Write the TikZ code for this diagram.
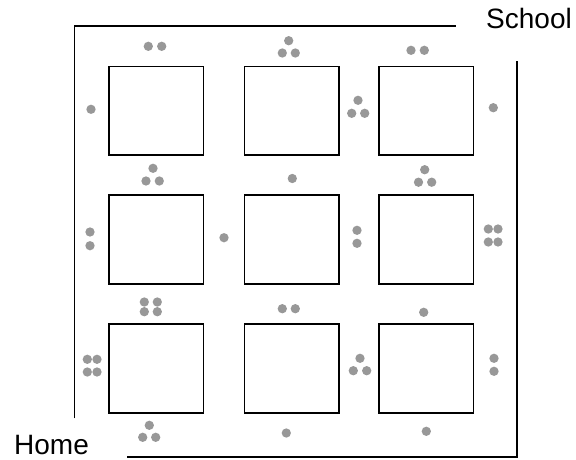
\documentclass[tikz,border=0pt]{standalone}
\usepackage{fontspec}
\setmainfont{Liberation Sans}
\definecolor{dotgray}{RGB}{152,152,152}

\begin{document}
\begin{tikzpicture}[
		x=10pt, y=-10pt,
		% City blocks of the plan
		block/.style={draw=black, line width=1.6pt, minimum width=94.4pt, minimum height=88.6pt, inner sep=0pt},
		% One dot on a street corner
		datapoint/.style={circle, fill=dotgray, inner sep=0pt, minimum size=9.3pt},
		% Typography for the two end points of the route
		placestyle/.style={font=\fontsize{28}{34}\selectfont, inner sep=0pt, text depth=0pt, anchor=base west},
		roadstyle/.style={line width=1.6pt}
		]
		\useasboundingbox (0,0) rectangle (57.6,45.9);
		
		% =========================================================================
		% OUTER ROADS
		% =========================================================================
		\coordinate (nwlow) at (7.43,41.83);
		\coordinate (nwcorner) at (7.43,2.57);
		\coordinate (nwend) at (45.57,2.57);
		\coordinate (sestart) at (12.73,45.67);
		\coordinate (secorner) at (51.67,45.67);
		\coordinate (seend) at (51.67,6.07);
		\draw[roadstyle] (nwlow) -- (nwcorner) -- (nwend);
		\draw[roadstyle] (sestart) -- (secorner) -- (seend);
		
		\node[placestyle] (school) at (48.6,2.8) {School};
		\node[placestyle] (home) at (1.4,45.4) {Home};
		
		% =========================================================================
		% BLOCKS
		% =========================================================================
		\node[block] (blk11) at (15.63,11.06) {};
		\node[block] (blk12) at (29.17,11.06) {};
		\node[block] (blk13) at (42.63,11.06) {};
		\node[block] (blk21) at (15.63,23.95) {};
		\node[block] (blk22) at (29.17,23.95) {};
		\node[block] (blk23) at (42.63,23.95) {};
		\node[block] (blk31) at (15.63,36.85) {};
		\node[block] (blk32) at (29.17,36.85) {};
		\node[block] (blk33) at (42.63,36.85) {};
		
		% =========================================================================
		% DOTS: top street and first row
		% =========================================================================
		\node[datapoint] (d1) at (14.83,4.63) {};
		\node[datapoint] (d2) at (16.17,4.63) {};
		\node[datapoint] (d3) at (28.87,4.07) {};
		\node[datapoint] (d4) at (28.23,5.3) {};
		\node[datapoint] (d5) at (29.53,5.3) {};
		\node[datapoint] (d6) at (41.1,5.03) {};
		\node[datapoint] (d7) at (42.43,5.03) {};
		\node[datapoint] (d8) at (9.1,10.93) {};
		\node[datapoint] (d9) at (35.8,10.03) {};
		\node[datapoint] (d10) at (35.17,11.33) {};
		\node[datapoint] (d11) at (36.47,11.33) {};
		\node[datapoint] (d12) at (49.33,10.77) {};
		
		% =========================================================================
		% DOTS: second street and second row
		% =========================================================================
		\node[datapoint] (d13) at (15.3,16.83) {};
		\node[datapoint] (d14) at (14.6,18.1) {};
		\node[datapoint] (d15) at (15.93,18.1) {};
		\node[datapoint] (d16) at (29.23,17.85) {};
		\node[datapoint] (d17) at (42.47,16.97) {};
		\node[datapoint] (d18) at (41.85,18.22) {};
		\node[datapoint] (d19) at (43.17,18.22) {};
		\node[datapoint] (d20) at (9.0,23.2) {};
		\node[datapoint] (d21) at (9.0,24.57) {};
		\node[datapoint] (d22) at (22.4,23.77) {};
		\node[datapoint] (d23) at (35.7,23.03) {};
		\node[datapoint] (d24) at (35.7,24.33) {};
		\node[datapoint] (d25) at (48.83,22.9) {};
		\node[datapoint] (d26) at (49.8,22.9) {};
		\node[datapoint] (d27) at (48.83,24.2) {};
		\node[datapoint] (d28) at (49.8,24.2) {};
		
		% =========================================================================
		% DOTS: third street and third row
		% =========================================================================
		\node[datapoint] (d29) at (14.43,30.2) {};
		\node[datapoint] (d30) at (15.73,30.2) {};
		\node[datapoint] (d31) at (14.43,31.17) {};
		\node[datapoint] (d32) at (15.73,31.17) {};
		\node[datapoint] (d33) at (28.23,30.87) {};
		\node[datapoint] (d34) at (29.53,30.87) {};
		\node[datapoint] (d35) at (42.37,31.23) {};
		\node[datapoint] (d36) at (8.73,35.93) {};
		\node[datapoint] (d37) at (9.7,35.93) {};
		\node[datapoint] (d38) at (8.73,37.2) {};
		\node[datapoint] (d39) at (9.7,37.2) {};
		\node[datapoint] (d40) at (36.0,35.83) {};
		\node[datapoint] (d41) at (35.33,37.07) {};
		\node[datapoint] (d42) at (36.67,37.07) {};
		\node[datapoint] (d43) at (49.4,35.83) {};
		\node[datapoint] (d44) at (49.4,37.13) {};
		
		% =========================================================================
		% DOTS: bottom street
		% =========================================================================
		\node[datapoint] (d45) at (14.93,42.53) {};
		\node[datapoint] (d46) at (14.27,43.73) {};
		\node[datapoint] (d47) at (15.57,43.73) {};
		\node[datapoint] (d48) at (28.63,43.3) {};
		\node[datapoint] (d49) at (42.63,43.13) {};
		
	\end{tikzpicture}
\end{document}
